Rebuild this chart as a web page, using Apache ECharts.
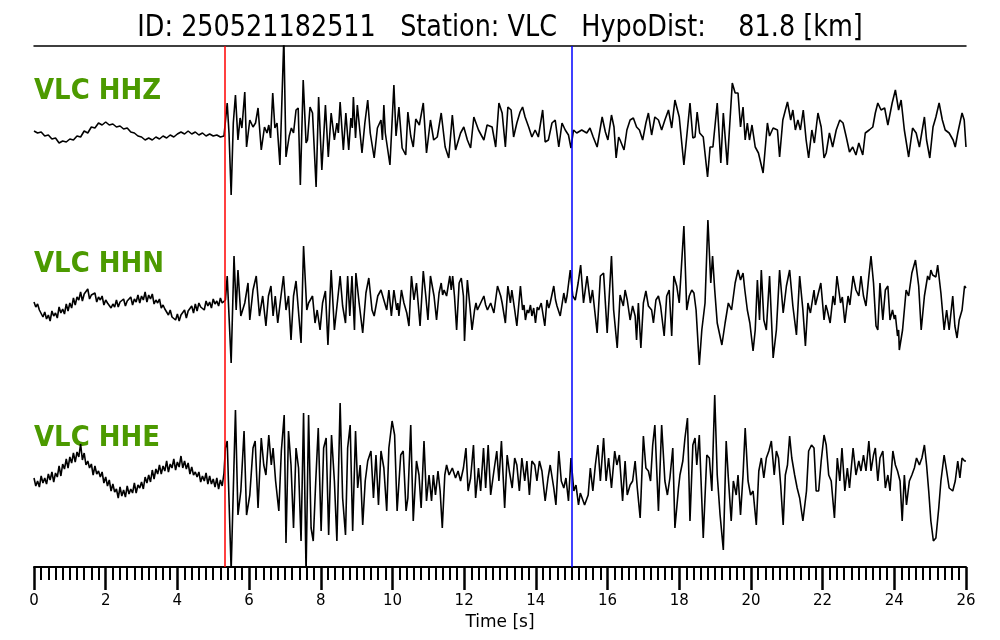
<!DOCTYPE html>
<html>
<head>
<meta charset="utf-8">
<script src="https://cdn.jsdelivr.net/npm/echarts@6/dist/echarts.min.js"></script>
<style>html,body{margin:0;padding:0;background:#fff}#chart{width:1000px;height:640px}</style>
</head>
<body>
<div id="chart"></div>
<script>
// ---- data (seconds, amplitude in display units around each trace baseline) ----
const titleText = 'ID: 250521182511   Station: VLC   HypoDist:    81.8 [km]';
const channels = ['VLC HHZ', 'VLC HHN', 'VLC HHE'];
const pickP = 5.33;
const pickS = 15.0;
const xMin = 0, xMax = 26, xStep = 2;

// pre-event samples (uniform sampling)
const hhzPreStep = 0.1;
const hhzPre = [2,0,1,-3,-2,-6,-5,-10,-8,-9,-6,-7,-3,-4,2,0,6,5,10,8,11,8,9,6,7,4,5,1,0,-3,-4,-7,-5,-7,-4,-6,-3,-5,-2,-4,-1,1,-1,2,-1,1,-2,0,-3,-1,-3,-2,-4,-3];
const nePreStep = 0.05;
const hhnPre = [3,-2,1,-5,-3,-12,-7,-14,-10,-16,
 -6,-11,-8,-13,-2,-8,-4,-9,1,-6,
 2,-3,7,0,8,5,13,4,11,9,
 16,6,10,8,12,3,8,5,9,0,
 5,2,4,-3,1,-2,5,-2,3,1,
 6,-1,4,2,8,0,6,3,10,2,
 9,5,13,3,10,6,11,1,5,2,
 6,-3,0,-4,-2,-10,-5,-12,-11,-15,
 -9,-16,-10,-12,-5,-13,-6,-8,-1,-8,
 1,-6,2,-2,0,-5,4,-1,3,-3,
 6,1,4,-1,7,2,4];
const hhePre = [0,-8,-3,-9,2,-5,0,-6,4,-2,
 6,-4,5,1,12,2,14,9,19,10,
 21,15,25,16,26,21,34,18,25,13,
 17,10,14,3,12,4,7,1,6,-5,
 1,-8,-2,-13,-6,-14,-11,-20,-9,-18,
 -12,-19,-8,-16,-11,-15,-5,-15,-7,-10,
 -4,-11,1,-5,3,-4,8,-1,9,4,
 13,4,12,7,17,6,14,10,19,8,
 16,11,22,10,17,9,15,4,11,3,
 6,1,6,-4,2,-3,5,-6,2,-6,
 -1,-9,0,-11,-2,-8,5];

// after the P pick: [time s, amplitude]
const hhzPost = [[5.34,-2],[5.39,30],[5.44,0],[5.50,-62],[5.56,10],[5.62,38],[5.69,-7],[5.75,15],[5.80,5],[5.88,41],[5.93,-14],[6.02,13],[6.11,6],[6.18,10],[6.25,25],[6.34,-17],[6.43,6],[6.50,0],[6.55,8],[6.60,-5],[6.66,40],[6.72,5],[6.78,10],[6.86,-32],[6.97,95],[7.03,-24],[7.12,-3],[7.18,5],[7.24,0],[7.31,23],[7.37,25],[7.43,-52],[7.51,53],[7.59,-10],[7.63,-7],[7.70,26],[7.77,20],[7.87,-54],[7.94,36],[8.03,-37],[8.13,28],[8.21,-24],[8.29,20],[8.38,-7],[8.45,10],[8.49,0],[8.54,31],[8.63,-17],[8.70,20],[8.78,-17],[8.84,15],[8.88,5],[8.91,36],[8.97,-5],[9.02,28],[9.15,-20],[9.23,10],[9.31,33],[9.38,0],[9.49,-25],[9.58,5],[9.68,13],[9.72,-7],[9.76,28],[9.80,0],[9.93,-32],[10.04,48],[10.10,-3],[10.18,26],[10.27,-15],[10.37,-22],[10.43,21],[10.51,-3],[10.58,-14],[10.65,14],[10.75,8],[10.86,30],[10.95,-20],[11.06,13],[11.15,-7],[11.25,-4],[11.36,20],[11.47,-14],[11.57,-25],[11.67,18],[11.76,-17],[11.90,0],[11.99,6],[12.09,-7],[12.18,-15],[12.27,16],[12.40,3],[12.55,-7],[12.64,8],[12.78,6],[12.88,-14],[12.97,30],[13.06,20],[13.15,-14],[13.22,26],[13.31,23],[13.38,-4],[13.47,10],[13.56,21],[13.63,26],[13.70,16],[13.80,6],[13.89,-4],[13.98,3],[14.07,-4],[14.19,23],[14.26,-9],[14.35,-7],[14.45,10],[14.54,13],[14.64,-14],[14.73,10],[14.82,3],[14.91,-2],[14.98,-15],[15.05,3],[15.14,0],[15.28,3],[15.42,0],[15.51,5],[15.60,-4],[15.71,-14],[15.85,16],[15.94,1],[16.01,-7],[16.11,18],[16.18,6],[16.24,-25],[16.31,-4],[16.35,-7],[16.46,-17],[16.54,3],[16.63,13],[16.72,15],[16.81,6],[16.89,3],[16.98,-7],[17.07,10],[17.14,20],[17.23,-2],[17.32,16],[17.42,13],[17.51,3],[17.60,13],[17.70,23],[17.79,5],[17.88,33],[18.00,16],[18.13,-32],[18.20,-7],[18.30,30],[18.38,-5],[18.44,-4],[18.50,21],[18.57,0],[18.67,-4],[18.79,-44],[18.86,-14],[18.94,-14],[19.06,30],[19.16,-30],[19.23,20],[19.34,-32],[19.48,50],[19.56,40],[19.64,40],[19.71,6],[19.78,26],[19.84,-7],[19.90,10],[19.96,-7],[20.03,8],[20.12,-14],[20.21,-20],[20.34,-40],[20.46,10],[20.52,-3],[20.62,5],[20.74,3],[20.80,-24],[20.89,13],[21.02,31],[21.11,13],[21.17,23],[21.24,3],[21.31,13],[21.38,3],[21.46,23],[21.54,-7],[21.61,-25],[21.70,3],[21.77,-10],[21.87,20],[21.96,6],[22.04,-25],[22.10,-20],[22.19,0],[22.28,-14],[22.38,3],[22.48,13],[22.57,10],[22.66,-4],[22.75,-19],[22.84,-14],[22.93,-22],[23.01,-10],[23.12,-22],[23.19,0],[23.30,3],[23.40,6],[23.47,20],[23.54,30],[23.63,23],[23.73,25],[23.82,8],[23.94,30],[24.03,43],[24.12,23],[24.19,33],[24.28,3],[24.40,-24],[24.51,5],[24.61,0],[24.70,-14],[24.84,16],[24.90,-7],[24.99,-25],[25.08,6],[25.16,16],[25.25,30],[25.34,13],[25.42,3],[25.53,0],[25.64,-7],[25.70,-14],[25.77,0],[25.89,20],[25.95,13],[26.0,-14]];

const hhnPost = [[5.34,5],[5.39,29],[5.50,-58],[5.58,49],[5.64,-5],[5.69,35],[5.77,-11],[5.88,2],[5.97,22],[6.02,-15],[6.11,15],[6.20,29],[6.29,-11],[6.38,9],[6.47,-21],[6.54,9],[6.61,19],[6.67,-11],[6.73,9],[6.80,-18],[6.89,9],[6.96,29],[7.03,-5],[7.10,9],[7.17,-35],[7.24,9],[7.31,24],[7.36,25],[7.45,-38],[7.52,59],[7.61,-5],[7.66,2],[7.77,9],[7.84,-18],[7.90,-5],[7.98,-25],[8.05,2],[8.13,14],[8.20,-40],[8.29,35],[8.38,-25],[8.47,5],[8.54,29],[8.61,-1],[8.69,-18],[8.75,29],[8.81,-11],[8.87,29],[8.94,-25],[8.98,32],[9.07,2],[9.17,-28],[9.26,12],[9.34,27],[9.43,-5],[9.49,-11],[9.59,9],[9.68,15],[9.76,5],[9.84,-5],[9.90,15],[9.97,-11],[10.04,15],[10.12,-5],[10.15,2],[10.18,-11],[10.25,15],[10.32,2],[10.40,-8],[10.46,-21],[10.53,29],[10.60,5],[10.67,22],[10.77,-21],[10.86,34],[10.93,9],[10.99,-15],[11.06,29],[11.16,9],[11.23,-15],[11.30,12],[11.36,22],[11.40,10],[11.44,15],[11.51,9],[11.60,29],[11.64,15],[11.68,29],[11.73,9],[11.79,-25],[11.86,22],[11.92,27],[11.98,9],[12.01,-36],[12.09,25],[12.16,-1],[12.22,-25],[12.29,-5],[12.33,2],[12.37,-5],[12.46,2],[12.55,9],[12.60,0],[12.65,-5],[12.74,2],[12.83,-8],[12.93,19],[13.02,9],[13.06,2],[13.15,-18],[13.22,19],[13.29,2],[13.33,15],[13.41,-5],[13.47,-21],[13.57,19],[13.63,-5],[13.67,0],[13.71,-15],[13.76,-5],[13.80,-8],[13.85,0],[13.89,-11],[13.94,-3],[13.99,-18],[14.04,-2],[14.08,-5],[14.15,2],[14.25,-21],[14.31,5],[14.36,-3],[14.40,2],[14.50,19],[14.55,5],[14.59,-1],[14.68,-11],[14.78,12],[14.83,2],[14.87,9],[14.96,35],[15.03,9],[15.10,5],[15.18,22],[15.25,40],[15.33,2],[15.43,29],[15.52,2],[15.58,15],[15.71,-28],[15.80,29],[15.89,32],[15.99,-28],[16.11,49],[16.17,-5],[16.27,-43],[16.35,10],[16.44,-1],[16.49,15],[16.55,5],[16.63,-15],[16.70,-1],[16.77,-11],[16.81,-35],[16.86,2],[16.93,-43],[17.00,2],[17.07,14],[17.14,-1],[17.23,-5],[17.28,-18],[17.35,5],[17.42,9],[17.48,-1],[17.58,-31],[17.65,9],[17.72,15],[17.79,-31],[17.85,29],[17.93,19],[18.00,2],[18.13,79],[18.21,-5],[18.28,9],[18.35,15],[18.41,12],[18.47,-5],[18.56,-60],[18.63,-25],[18.72,2],[18.80,85],[18.88,22],[18.93,49],[18.99,15],[19.06,-18],[19.19,-40],[19.28,-18],[19.37,2],[19.46,-5],[19.56,22],[19.64,35],[19.71,25],[19.78,32],[19.83,15],[19.90,-5],[19.97,-18],[20.06,-46],[20.12,-25],[20.18,25],[20.24,-15],[20.29,35],[20.36,-15],[20.43,-25],[20.52,29],[20.62,-53],[20.71,-25],[20.80,35],[20.90,-8],[20.99,19],[21.08,35],[21.17,-1],[21.27,-30],[21.36,29],[21.45,-5],[21.52,-41],[21.59,2],[21.66,-8],[21.76,15],[21.80,0],[21.85,-1],[21.95,22],[22.04,-15],[22.09,0],[22.13,-5],[22.21,-18],[22.29,9],[22.34,0],[22.40,29],[22.50,2],[22.55,8],[22.62,-18],[22.71,9],[22.76,0],[22.85,29],[22.93,15],[23.01,9],[23.07,29],[23.14,9],[23.21,-1],[23.29,29],[23.35,49],[23.42,22],[23.49,-21],[23.54,-25],[23.60,22],[23.68,-15],[23.75,15],[23.82,19],[23.88,-15],[23.95,-5],[24.00,-14],[24.03,-10],[24.09,-31],[24.12,-25],[24.14,-45],[24.23,-25],[24.33,15],[24.40,9],[24.49,32],[24.59,45],[24.68,19],[24.75,-25],[24.84,9],[24.93,29],[24.98,25],[25.02,35],[25.07,30],[25.12,32],[25.16,28],[25.21,40],[25.30,12],[25.39,-25],[25.46,-5],[25.53,-25],[25.63,9],[25.69,-21],[25.75,-33],[25.81,-15],[25.89,-5],[25.96,19],[26.0,17]];

const hhePost = [[5.34,30],[5.39,37],[5.50,-92],[5.62,68],[5.69,-37],[5.77,-13],[5.86,47],[5.93,-37],[6.02,-17],[6.11,30],[6.17,37],[6.25,-30],[6.34,40],[6.41,13],[6.47,3],[6.55,43],[6.62,13],[6.67,30],[6.74,-3],[6.83,-33],[6.90,27],[6.98,63],[7.03,-65],[7.10,47],[7.17,13],[7.24,-50],[7.31,30],[7.38,10],[7.45,-63],[7.52,65],[7.59,-95],[7.66,63],[7.73,-50],[7.79,-63],[7.86,-3],[7.93,50],[8.01,-53],[8.08,30],[8.15,40],[8.22,-57],[8.30,43],[8.38,-3],[8.45,-63],[8.54,75],[8.61,-20],[8.69,-57],[8.75,30],[8.82,53],[8.89,-53],[8.97,47],[9.03,-10],[9.10,13],[9.17,-47],[9.24,-3],[9.31,17],[9.40,27],[9.47,-20],[9.54,23],[9.61,-27],[9.68,27],[9.76,10],[9.84,-33],[9.90,30],[9.99,57],[10.06,43],[10.13,-33],[10.23,23],[10.30,27],[10.38,-33],[10.43,-20],[10.51,53],[10.58,-43],[10.67,17],[10.74,3],[10.80,-30],[10.88,37],[10.95,-23],[11.02,3],[11.09,-23],[11.14,3],[11.20,-17],[11.27,7],[11.33,-13],[11.39,-50],[11.46,3],[11.51,13],[11.58,3],[11.67,10],[11.76,0],[11.83,7],[11.90,-3],[11.98,10],[12.05,30],[12.11,-13],[12.18,0],[12.26,33],[12.32,-20],[12.40,10],[12.46,-13],[12.54,30],[12.60,-10],[12.67,33],[12.74,-17],[12.83,7],[12.91,27],[12.97,-3],[13.04,37],[13.13,-30],[13.20,23],[13.26,7],[13.34,-10],[13.41,20],[13.47,13],[13.54,-13],[13.61,20],[13.69,-3],[13.75,17],[13.82,-17],[13.89,17],[13.97,13],[14.03,-3],[14.10,17],[14.17,7],[14.26,-23],[14.34,0],[14.40,13],[14.50,-10],[14.56,-27],[14.64,27],[14.71,-3],[14.78,-10],[14.84,0],[14.91,-23],[14.98,20],[15.06,-13],[15.12,-7],[15.19,-27],[15.24,-15],[15.29,-17],[15.36,-27],[15.46,-17],[15.52,10],[15.59,-13],[15.66,13],[15.73,33],[15.80,-3],[15.89,40],[15.96,-3],[16.03,20],[16.11,-10],[16.20,27],[16.26,13],[16.33,23],[16.42,-23],[16.49,17],[16.55,-17],[16.63,-7],[16.70,-3],[16.77,17],[16.83,-10],[16.91,-40],[17.00,42],[17.07,10],[17.14,7],[17.20,-3],[17.26,33],[17.32,53],[17.42,-33],[17.51,53],[17.60,-3],[17.67,-17],[17.74,0],[17.82,30],[17.88,-50],[17.98,-10],[18.02,3],[18.10,17],[18.16,40],[18.23,60],[18.30,-43],[18.38,33],[18.44,40],[18.49,13],[18.56,43],[18.67,-60],[18.77,23],[18.84,20],[18.91,-13],[18.99,83],[19.06,3],[19.14,-37],[19.23,-72],[19.31,37],[19.37,0],[19.45,-43],[19.51,-3],[19.59,-17],[19.64,3],[19.71,-37],[19.78,3],[19.84,50],[19.92,-3],[19.99,-17],[20.06,-13],[20.15,-47],[20.22,7],[20.29,20],[20.36,0],[20.43,20],[20.50,27],[20.57,37],[20.65,3],[20.71,27],[20.77,20],[20.83,-7],[20.90,-47],[20.96,3],[21.02,13],[21.08,42],[21.14,20],[21.22,3],[21.29,-10],[21.36,-20],[21.45,-43],[21.55,-13],[21.61,27],[21.69,33],[21.76,30],[21.82,-13],[21.89,-13],[21.96,17],[22.04,43],[22.10,33],[22.17,3],[22.24,-3],[22.33,-40],[22.41,20],[22.48,-3],[22.54,30],[22.62,-13],[22.69,10],[22.75,-10],[22.85,30],[22.93,3],[23.01,17],[23.07,7],[23.14,23],[23.21,7],[23.29,37],[23.35,7],[23.42,23],[23.47,30],[23.54,-3],[23.60,20],[23.68,27],[23.75,-10],[23.82,3],[23.88,-13],[23.96,27],[24.03,13],[24.09,7],[24.16,-3],[24.22,-43],[24.28,3],[24.34,-27],[24.42,-3],[24.49,3],[24.56,10],[24.62,20],[24.70,13],[24.77,20],[24.84,33],[24.90,13],[24.96,-13],[25.02,-43],[25.09,-63],[25.16,-60],[25.24,-30],[25.30,-3],[25.39,23],[25.46,7],[25.53,-10],[25.58,-8],[25.63,-13],[25.70,-3],[25.77,17],[25.83,0],[25.89,20],[25.96,17],[26.0,17]];

// ---- layout / style (not data) ----
const GRID = {left: 34, right: 34, top: 46, bottom: 73};
const PLOT_H = 640 - GRID.top - GRID.bottom; // y axis in display units
const baseZ = 434, baseN = 262, baseE = 89;
const labelFont = 'bold 26px "DejaVu Sans"';
const green = '#4C9A00';

function build(pre, step, post, off) {
  const d = [];
  pre.forEach((v, i) => d.push([Math.round(i * step * 100) / 100, v + off]));
  post.forEach(p => d.push([p[0], p[1] + off]));
  return d;
}

const chart = echarts.init(document.getElementById('chart'), null, {renderer: 'canvas'});
const lineStyle = {color: '#000', width: 1.6};
function trace(data, extra) {
  return Object.assign({
    type: 'line', data: data, showSymbol: false, symbol: 'none', clip: true,
    lineStyle: lineStyle, silent: true, animation: false
  }, extra || {});
}
function label(text, y) {
  return {type: 'text', x: 34, y: y, scaleY: 1.1, silent: true,
    style: {text: text, font: labelFont, fill: green, align: 'left', verticalAlign: 'middle', textAlign: 'left', textVerticalAlign: 'middle'}};
}

chart.setOption({
  backgroundColor: '#fff',
  animation: false,
  grid: {left: GRID.left, right: GRID.right, top: GRID.top, bottom: GRID.bottom, containLabel: false},
  xAxis: [{
    type: 'value', min: xMin, max: xMax, interval: xStep, position: 'bottom',
    axisLine: {show: true, onZero: false, lineStyle: {color: '#000', width: 2}},
    axisTick: {show: true, length: 23, lineStyle: {color: '#000', width: 2.5}},
    minorTick: {show: true, splitNumber: 10, length: 13, lineStyle: {color: '#000', width: 2}},
    minorSplitLine: {show: false},
    splitLine: {show: false},
    axisLabel: {color: '#000', fontSize: 15, fontFamily: 'DejaVu Sans', margin: 27, showMinLabel: true, showMaxLabel: true},
    name: 'Time [s]', nameLocation: 'middle', nameGap: 40,
    nameTextStyle: {color: '#000', fontSize: 17, fontFamily: 'DejaVu Sans'}
  }, {
    type: 'value', min: xMin, max: xMax, position: 'top',
    axisLine: {show: true, onZero: false, lineStyle: {color: '#000', width: 1.5}},
    axisTick: {show: false}, axisLabel: {show: false}, splitLine: {show: false}
  }],
  yAxis: {type: 'value', min: 0, max: PLOT_H, show: false, splitLine: {show: false}},
  series: [
    trace(build(hhzPre, hhzPreStep, hhzPost, baseZ), {
      markLine: {
        silent: true, symbol: 'none', animation: false,
        label: {show: false},
        data: [
          {xAxis: pickP, lineStyle: {color: '#ff0000', width: 1.5, type: 'solid'}},
          {xAxis: pickS, lineStyle: {color: '#0000ff', width: 1.5, type: 'solid'}}
        ]
      }
    }),
    trace(build(hhnPre, nePreStep, hhnPost, baseN)),
    trace(build(hhePre, nePreStep, hhePost, baseE))
  ],
  graphic: [
    {type: 'text', x: 500, y: 28, scaleY: 1.15, silent: true, style: {text: titleText, font: '25.5px "DejaVu Sans"', fill: '#000', align: 'center', verticalAlign: 'middle', textAlign: 'center', textVerticalAlign: 'middle'}},
    label(channels[0], 92),
    label(channels[1], 265),
    label(channels[2], 439)
  ]
});
</script>
</body>
</html>
